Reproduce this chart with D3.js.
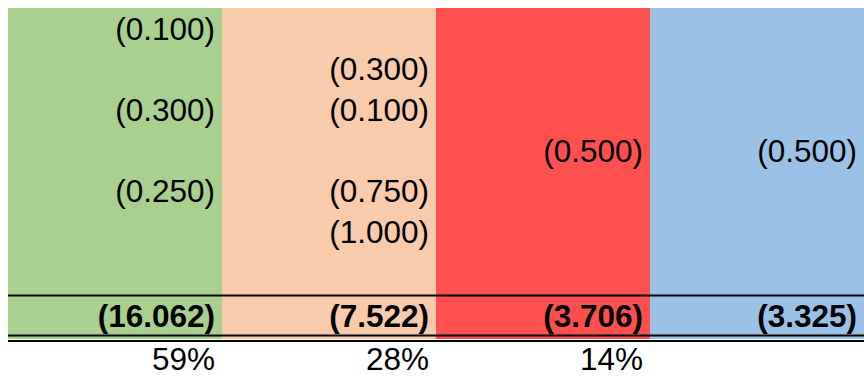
<!DOCTYPE html>
<html>
<head>
<meta charset="utf-8">
<script src="https://cdn.jsdelivr.net/npm/d3@7/dist/d3.min.js"></script>
<style>
  html, body { margin: 0; padding: 0; background: #fff; }
  svg { display: block; }
  text { font-family: "Liberation Sans", Arial, sans-serif; fill: #000; }
</style>
</head>
<body>
<svg id="sheet" width="864" height="383"></svg>
<script>
// Column groups and their fills
const groups = ["A", "B", "C", "D"];
const fills = ["#A9D08E", "#F8CBAD", "#FF5050", "#9BC2E6"];

// Line items per group (one entry per row, null = empty cell)
const itemsA = [0.100, null, 0.300, null, 0.250, null];
const itemsB = [null, 0.300, 0.100, null, 0.750, 1.000];
const itemsC = [null, null, null, 0.500, null, null];
const itemsD = [null, null, null, 0.500, null, null];
const items = [itemsA, itemsB, itemsC, itemsD];

// Group totals and share labels
const totals = [16.062, 7.522, 3.706, 3.325];
const shares = [59, 28, 14, null];

const W = 864, H = 383;
const FS = 31.5;
const svg = d3.select("#sheet");

const x = d3.scaleBand().domain(d3.range(groups.length)).range([8, W]).padding(0);
const rowY = d3.scaleLinear().domain([0, 1]).range([39.5, 80.2]);
const fmt = d3.format(".3f");
const paren = v => "(" + fmt(v) + ")";
const pad = 7;

// Column fills
svg.selectAll("rect.col")
  .data(groups)
  .join("rect")
  .attr("class", "col")
  .attr("x", (d, i) => x(i))
  .attr("y", 8)
  .attr("width", x.bandwidth())
  .attr("height", 339 - 8)
  .attr("fill", (d, i) => fills[i]);

// Line item values
const cells = [];
items.forEach((col, c) => col.forEach((v, r) => { if (v != null) cells.push({ c, r, v }); }));
svg.selectAll("text.item")
  .data(cells)
  .join("text")
  .attr("class", "item")
  .attr("x", d => x(d.c) + x.bandwidth() - pad)
  .attr("y", d => rowY(d.r))
  .attr("text-anchor", "end")
  .attr("font-size", FS)
  .text(d => paren(d.v));

// Rule lines above and below the totals row
const rules = [
  { y: 295.5, w: 2 },
  { y: 335.5, w: 2 },
  { y: 341, w: 2 }
];
svg.selectAll("line.rule")
  .data(rules)
  .join("line")
  .attr("class", "rule")
  .attr("x1", 8).attr("x2", W)
  .attr("y1", d => d.y).attr("y2", d => d.y)
  .attr("stroke", "#000")
  .attr("stroke-width", d => d.w);

// Totals
svg.selectAll("text.total")
  .data(totals)
  .join("text")
  .attr("class", "total")
  .attr("x", (d, i) => x(i) + x.bandwidth() - pad)
  .attr("y", 327)
  .attr("text-anchor", "end")
  .attr("font-size", FS)
  .attr("font-weight", "bold")
  .text(d => paren(d));

// Share percentages
svg.selectAll("text.share")
  .data(shares.map((s, i) => ({ s, i })).filter(d => d.s != null))
  .join("text")
  .attr("class", "share")
  .attr("x", d => x(d.i) + x.bandwidth() - pad)
  .attr("y", 370)
  .attr("text-anchor", "end")
  .attr("font-size", FS)
  .text(d => d.s + "%");
</script>
</body>
</html>
